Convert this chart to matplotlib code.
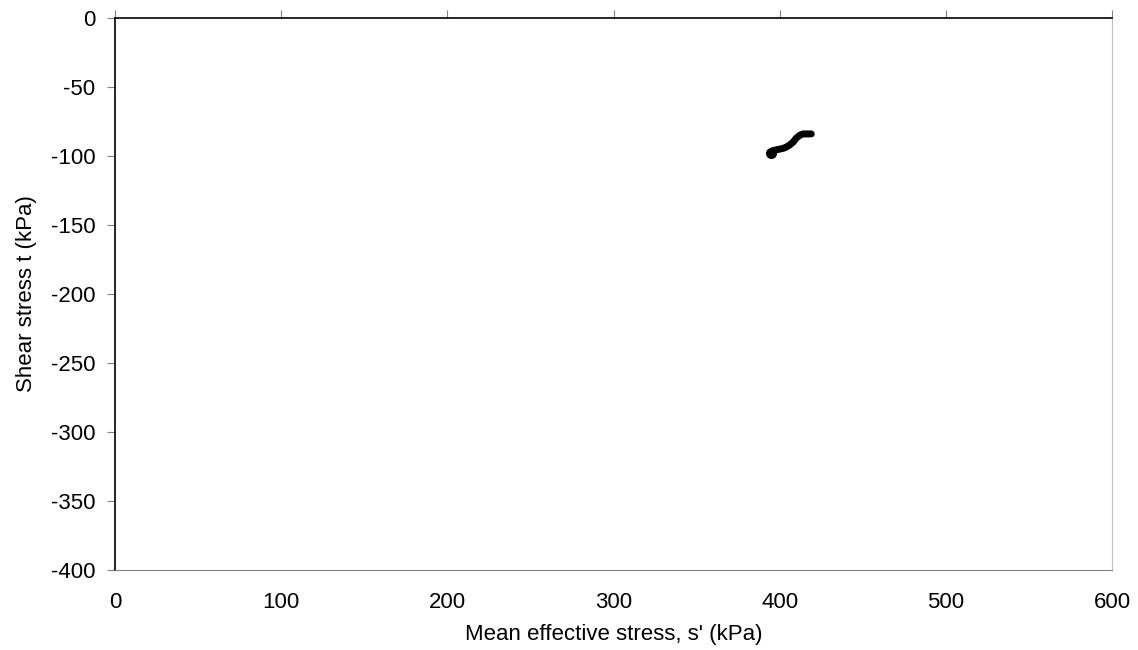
import matplotlib.pyplot as plt

plt.rcParams['font.family'] = ['Liberation Sans', 'DejaVu Sans']
plt.rcParams['axes.unicode_minus'] = False

# stress path
s_mean = [395, 396, 398, 400, 402, 404, 406, 407, 408, 409, 410, 411, 412, 414, 416, 418, 419]
t_shear = [-97.5, -96, -95.5, -95, -94.5, -93.5, -92, -91, -90, -88.5, -87, -86, -85, -84, -84, -84, -84]

fig = plt.figure(figsize=(11.38, 6.5), dpi=100)
ax = fig.add_axes([0.1011, 0.1231, 0.8761, 0.8492])

ax.plot(s_mean, t_shear, color='black', linewidth=5, solid_capstyle='round', solid_joinstyle='round')
ax.plot(s_mean[0], t_shear[0], 'o', color='black', markersize=7)

ax.set_xlim(0, 600)
ax.set_ylim(-400, 0)
ax.set_xticks(range(0, 601, 100))
ax.set_yticks(range(-400, 1, 50))

ax.spines['top'].set_color('black')
ax.spines['left'].set_color('black')
ax.spines['top'].set_linewidth(1.2)
ax.spines['left'].set_linewidth(1.2)
ax.spines['bottom'].set_color('#808080')
ax.spines['right'].set_color('#c0c0c0')

ax.tick_params(axis='x', top=True, bottom=False, labeltop=False, labelbottom=True,
               direction='out', length=6, color='#808080', labelsize=16, pad=10)
ax.tick_params(axis='y', left=True, direction='out', length=6, color='#808080', labelsize=16, pad=8)

ax.set_xlabel("Mean effective stress, s' (kPa)", fontsize=16, labelpad=8)
ax.set_ylabel("Shear stress t (kPa)", fontsize=16, labelpad=10)

fig.savefig('out.png', dpi=100)
